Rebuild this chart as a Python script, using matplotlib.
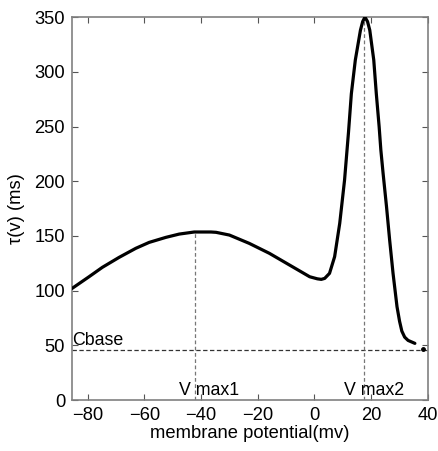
import matplotlib
matplotlib.use("Agg")
import matplotlib.pyplot as plt

plt.rcParams['font.family'] = ['Liberation Sans', 'DejaVu Sans']

# membrane potential (mV) and tau(v) (ms)
v = [-85.5, -79.5, -74.8, -68.9, -63.0, -58.3, -52.4, -47.7, -42.4, -36.5, -34.7,
     -30.0, -23.0, -15.9, -8.8, -1.7, 1.0, 2.4, 3.6, 5.3, 7.1, 8.9, 10.6, 12.0,
     13.0, 14.4, 16.2, 17.0, 17.8, 18.7, 19.5, 20.9, 21.8, 22.8, 23.4, 24.2, 25.4,
     26.5, 27.7, 29.1, 30.0, 30.8, 31.8, 33.0, 35.4]
tau = [102, 112.7, 121.3, 130.4, 138.7, 144.1, 148.7, 151.7, 153.6, 153.6, 153.3,
       150.8, 143.2, 134.1, 123.4, 112.7, 110.8, 110.3, 111.2, 115.8, 131, 161.5,
       201, 245, 280, 310.8, 338, 346, 350, 346, 338, 310.8, 280, 249.8, 228.5, 207,
       176.7, 146.3, 115.8, 85.3, 72, 63, 57.5, 54.5, 51.8]
last_v = [38.1]
last_tau = [47.0]

cbase = 46
vmax1, vmax1_tau = -42, 153.6
vmax2, vmax2_tau = 17.5, 350

xticks = [-80, -60, -40, -20, 0, 20, 40]
yticks = [0, 50, 100, 150, 200, 250, 300, 350]

fig = plt.figure(figsize=(4.38, 4.51), dpi=100)
ax = fig.add_axes([0.1644, 0.113, 0.8126, 0.849])

ax.plot(v, tau, color='black', lw=2.3, solid_capstyle='round',
        solid_joinstyle='round', zorder=3)
ax.plot(last_v, last_tau, 'o', color='black', ms=2.5, zorder=3)

ax.axhline(cbase, color='#333333', lw=0.9, ls=(0, (3.5, 2)), zorder=2)
ax.plot([vmax1, vmax1], [0, vmax1_tau], color='#777777', lw=0.9, ls=(0, (3, 2)), zorder=2)
ax.plot([vmax2, vmax2], [0, vmax2_tau], color='#777777', lw=0.9, ls=(0, (3, 2)), zorder=2)

ax.text(-85.6, cbase + 0.5, 'Cbase', fontsize=12.8, ha='left', va='bottom')
ax.text(-47.6, 0.5, 'V max1', fontsize=12.8, ha='left', va='bottom')
ax.text(10.4, 0.5, 'V max2', fontsize=12.8, ha='left', va='bottom')

ax.set_xlim(-85.5, 40)
ax.set_ylim(0, 350)
ax.set_xticks(xticks)
ax.set_yticks(yticks)
ax.tick_params(direction='in', length=4, width=0.8, color='#555555',
               top=True, right=True, labelsize=13.2, pad=5)
for s in ax.spines.values():
    s.set_color('#808080')
    s.set_linewidth(1.2)

ax.set_xlabel('membrane potential(mv)', fontsize=13.2, labelpad=1)
ax.set_ylabel('τ(v) (ms)', fontsize=13.2, labelpad=7)

fig.savefig('out.png', dpi=100)
